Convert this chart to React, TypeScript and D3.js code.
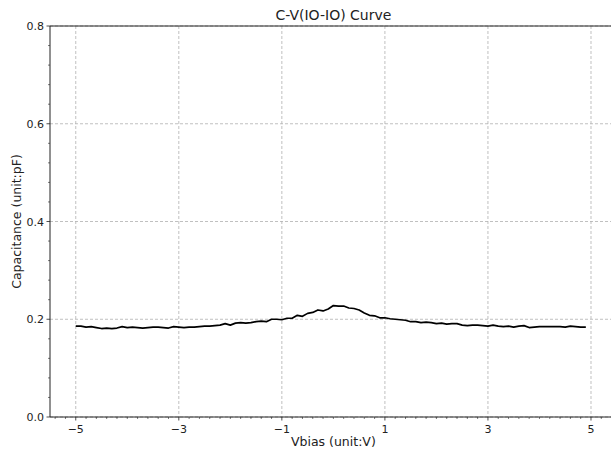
import React from "react";
import * as d3 from "d3";

const vbias: number[] = d3.range(100).map((i) => Math.round((-5 + i * 0.1) * 10) / 10);
const capacitance: number[] = [
  0.186, 0.186, 0.184, 0.185, 0.183, 0.181, 0.182, 0.181, 0.182, 0.185,
  0.183, 0.184, 0.183, 0.182, 0.183, 0.184, 0.184, 0.183, 0.182, 0.185,
  0.184, 0.183, 0.184, 0.184, 0.185, 0.186, 0.186, 0.187, 0.188, 0.191,
  0.188, 0.192, 0.193, 0.192, 0.193, 0.195, 0.196, 0.195, 0.2, 0.2,
  0.199, 0.202, 0.202, 0.208, 0.206, 0.212, 0.214, 0.219, 0.217, 0.221,
  0.228, 0.227, 0.227, 0.223, 0.222, 0.219, 0.213, 0.208, 0.207, 0.203,
  0.203, 0.201, 0.2, 0.199, 0.198, 0.195, 0.195, 0.193, 0.194, 0.193,
  0.191, 0.192, 0.19, 0.191, 0.191, 0.188, 0.187, 0.188, 0.188, 0.187,
  0.186, 0.188, 0.186, 0.185, 0.186, 0.184, 0.186, 0.187, 0.183, 0.184,
  0.185, 0.185, 0.185, 0.185, 0.185, 0.184, 0.186, 0.185, 0.184, 0.184,
];
const xTicks: number[] = [-5, -3, -1, 1, 3, 5];
const yTicks: number[] = [0, 0.2, 0.4, 0.6, 0.8];
const title = "C-V(IO-IO) Curve";
const xLabel = "Vbias (unit:V)";
const yLabel = "Capacitance (unit:pF)";

const W = 611;
const H = 450;
const L = 50;
const T = 26;
const B = 417;
const R = 616.75;

export default function App() {
  const x = d3.scaleLinear().domain([-5.5, 5.5]).range([L, R]);
  const y = d3.scaleLinear().domain([0, 0.8]).range([B, T]);
  const xMinor = d3.range(-5.4, 5.5, 0.2).map((v) => Math.round(v * 10) / 10).filter((v) => !xTicks.some((t) => Math.abs(t - v) < 1e-6));
  const yMinor = d3.range(0, 0.801, 0.04).map((v) => Math.round(v * 100) / 100).filter((v) => !yTicks.some((t) => Math.abs(t - v) < 1e-6));
  const line = d3
    .line<number>()
    .x((_, i) => x(vbias[i]))
    .y((d) => y(d));
  const font = "DejaVu Sans, sans-serif";
  return (
    <div style={{ position: "fixed", left: 0, top: 0, width: W, height: H, overflow: "hidden", background: "#fff" }}>
      <svg width={W} height={H} style={{ display: "block" }} fontFamily={font}>
        <rect x={0} y={0} width={W} height={H} fill="#fff" />
        {xTicks.map((t) => (
          <line key={"gx" + t} x1={x(t)} x2={x(t)} y1={T} y2={B} stroke="#b0b0b0" strokeWidth={0.8} strokeDasharray="3,2" />
        ))}
        {yTicks.map((t) => (
          <line key={"gy" + t} x1={L} x2={W} y1={y(t)} y2={y(t)} stroke="#b0b0b0" strokeWidth={0.8} strokeDasharray="3,2" />
        ))}
        <path d={line(capacitance) || ""} fill="none" stroke="#000" strokeWidth={1.7} strokeLinejoin="round" />
        <line x1={L} x2={L} y1={T} y2={B} stroke="#222" strokeWidth={1} />
        <line x1={L} x2={W} y1={T} y2={T} stroke="#222" strokeWidth={1} />
        <line x1={L} x2={W} y1={B} y2={B} stroke="#222" strokeWidth={1} />
        {xTicks.map((t) => (
          <g key={"xt" + t}>
            <line x1={x(t)} x2={x(t)} y1={B} y2={B + 3.5} stroke="#222" strokeWidth={0.8} />
            <text x={x(t)} y={B + 16} fontSize={11} textAnchor="middle" fill="#222">
              {t < 0 ? "\u2212" + Math.abs(t) : String(t)}
            </text>
          </g>
        ))}
        {xMinor.map((t) => (
          <line key={"xm" + t} x1={x(t)} x2={x(t)} y1={B} y2={B + 2} stroke="#222" strokeWidth={0.6} />
        ))}
        {yTicks.map((t) => (
          <g key={"yt" + t}>
            <line x1={L - 3.5} x2={L} y1={y(t)} y2={y(t)} stroke="#222" strokeWidth={0.8} />
            <text x={L - 6} y={y(t) + 4} fontSize={11} textAnchor="end" fill="#222">
              {t.toFixed(1)}
            </text>
          </g>
        ))}
        {yMinor.map((t) => (
          <line key={"ym" + t} x1={L - 2} x2={L} y1={y(t)} y2={y(t)} stroke="#222" strokeWidth={0.6} />
        ))}
        <text x={(L + R) / 2} y={T - 6} fontSize={14} textAnchor="middle" fill="#222">
          {title}
        </text>
        <text x={(L + R) / 2} y={446} fontSize={12.5} textAnchor="middle" fill="#222">
          {xLabel}
        </text>
        <text transform={`translate(21, ${(T + B) / 2}) rotate(-90)`} fontSize={12.5} textAnchor="middle" fill="#222">
          {yLabel}
        </text>
      </svg>
    </div>
  );
}
